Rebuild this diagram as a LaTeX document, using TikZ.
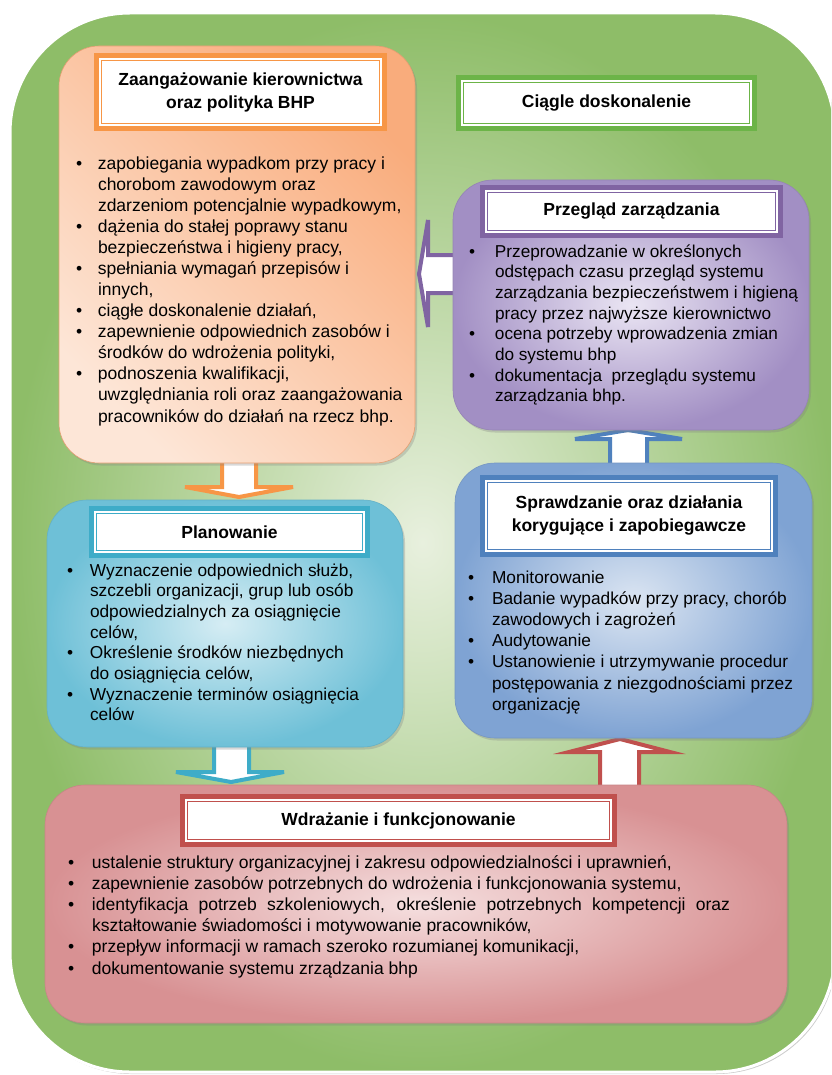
\documentclass[tikz,border=0pt]{standalone}
\usepackage{fontspec}
\setmainfont{Liberation Sans}
\usetikzlibrary{shadows}
\definecolor{grD}{RGB}{142,189,104}
\definecolor{grL}{RGB}{232,240,222}
\definecolor{grT}{RGB}{108,180,72}
\definecolor{orD}{RGB}{249,172,124}
\definecolor{orL}{RGB}{253,230,215}
\definecolor{orT}{RGB}{247,150,70}
\definecolor{puD}{RGB}{162,143,196}
\definecolor{puL}{RGB}{234,229,243}
\definecolor{puT}{RGB}{128,100,162}
\definecolor{cyD}{RGB}{110,192,215}
\definecolor{cyL}{RGB}{214,237,244}
\definecolor{cyT}{RGB}{62,172,200}
\definecolor{blD}{RGB}{127,163,211}
\definecolor{blL}{RGB}{219,229,242}
\definecolor{blT}{RGB}{79,129,189}
\definecolor{reD}{RGB}{216,145,147}
\definecolor{reL}{RGB}{245,223,223}
\definecolor{reT}{RGB}{192,80,77}
\newlength\bw
\newcommand\bi[1]{\makebox[\bw][l]{\textbullet}#1}
\newcommand\ci[1]{\hspace*{\bw}#1}
\begin{document}
\begin{tikzpicture}[x=1pt,y=-1pt,
  box/.style={rounded corners=40pt, outer sep=0pt, draw=#1D!92!black, line width=0.6pt,
    inner color=#1L, outer color=#1D,
    drop shadow={shadow xshift=2pt, shadow yshift=-2.5pt, opacity=0.3}},
  tbox/.style={draw=#1, line width=5pt, outer sep=0pt, fill=white, inner sep=2pt,
    align=center, font=\bfseries\fontsize{17.5}{23}\selectfont},
  inline/.style={draw=#1, line width=0.9pt},
  barrow/.style={draw=#1, line width=4pt, fill=white},
  btext/.style={anchor=base west, inner sep=0pt, outer sep=0pt}]
\useasboundingbox (0,0) rectangle (831,1075);
\clip (0,0) rectangle (831,1075);
% outer background
\node[rounded corners=120pt, outer sep=0pt, minimum width=825pt, minimum height=1059pt,
  inner color=grL, outer color=grD, draw=white, line width=3pt,
  drop shadow={shadow xshift=1.5pt, shadow yshift=-2pt, fill=black!40, opacity=0.5}]
  (outer) at (422.5,542.5) {};
% block arrows
\draw[barrow=orT] (222,455) -- (222,487) -- (185,487) -- (239,497) -- (293,487) -- (256,487) -- (256,455) -- cycle;
\draw[barrow=cyT] (214,740) -- (214,772) -- (176,772) -- (231,782) -- (284,772) -- (249,772) -- (249,740) -- cycle;
\draw[barrow=blT] (610,472) -- (610,439) -- (575,439) -- (628,430) -- (682,439) -- (647,439) -- (647,472) -- cycle;
\draw[barrow=reT] (600,795) -- (600,752) -- (569,752) -- (620,739) -- (670,752) -- (639,752) -- (639,795) -- cycle;
\draw[barrow=puT] (462,255) -- (428,255) -- (428,220) -- (419,274) -- (428,327) -- (428,293) -- (462,293) -- cycle;
% main boxes
\node[box=or, top color=orD, bottom color=orL, shading angle=-45, minimum width=356pt, minimum height=417pt] (zaang) at (237,254.5) {};
\node[box=pu, minimum width=356pt, minimum height=250pt] (przeg) at (631,305) {};
\node[box=cy, minimum width=356pt, minimum height=247pt] (plan) at (225,623.5) {};
\node[box=bl, minimum width=357pt, minimum height=275pt] (spraw) at (633.5,600.5) {};
\node[box=re, minimum width=742pt, minimum height=238pt] (wdraz) at (416,904) {};
% title boxes
\node[tbox=orT, minimum width=288pt, minimum height=73pt] (tz) at (240.5,92) {Zaangażowanie kierownictwa\\oraz polityka BHP};
\draw[inline=orT] ([shift={(5pt,-5pt)}]tz.north west) rectangle ([shift={(-5pt,5pt)}]tz.south east);
\node[tbox=grT, minimum width=296pt, minimum height=51pt] (tc) at (606.5,103) {Ciągle doskonalenie};
\draw[inline=grT] ([shift={(5pt,-5pt)}]tc.north west) rectangle ([shift={(-5pt,5pt)}]tc.south east);
\node[tbox=puT, minimum width=298pt, minimum height=48pt] (tp) at (631.5,211.5) {Przegląd zarządzania};
\draw[inline=puT] ([shift={(5pt,-5pt)}]tp.north west) rectangle ([shift={(-5pt,5pt)}]tp.south east);
\node[tbox=cyT, minimum width=276pt, minimum height=47pt] (tpl) at (229.5,532) {Planowanie};
\draw[inline=cyT] ([shift={(5pt,-5pt)}]tpl.north west) rectangle ([shift={(-5pt,5pt)}]tpl.south east);
\node[tbox=blT, minimum width=293pt, minimum height=77pt] (ts) at (629,516) {Sprawdzanie oraz działania\\korygujące i zapobiegawcze};
\draw[inline=blT] ([shift={(5pt,-5pt)}]ts.north west) rectangle ([shift={(-5pt,5pt)}]ts.south east);
\node[tbox=reT, minimum width=432pt, minimum height=48pt] (tw) at (398.5,820.5) {Wdrażanie i funkcjonowanie};
\draw[inline=reT] ([shift={(5pt,-5pt)}]tw.north west) rectangle ([shift={(-5pt,5pt)}]tw.south east);
% texts
\node[btext, font=\fontsize{17.5}{21}\selectfont] (xz) at (76,170) {\parbox[t]{345pt}{\setlength\bw{22pt}\raggedright
\bi{zapobiegania wypadkom przy pracy i}\\
\ci{chorobom zawodowym oraz}\\
\ci{zdarzeniom potencjalnie wypadkowym,}\\
\bi{dążenia do stałej poprawy stanu}\\
\ci{bezpieczeństwa i higieny pracy,}\\
\bi{spełniania wymagań przepisów i}\\
\ci{innych,}\\
\bi{ciągłe doskonalenie działań,}\\
\bi{zapewnienie odpowiednich zasobów i}\\
\ci{środków do wdrożenia polityki,}\\
\bi{podnoszenia kwalifikacji,}\\
\ci{uwzględniania roli oraz zaangażowania}\\
\ci{pracowników do działań na rzecz bhp.}}};
\node[btext, font=\fontsize{17.2}{20.7}\selectfont] (xp) at (469,257) {\parbox[t]{345pt}{\setlength\bw{26pt}\raggedright
\bi{Przeprowadzanie w określonych}\\
\ci{odstępach czasu przegląd systemu}\\
\ci{zarządzania bezpieczeństwem i higieną}\\
\ci{pracy przez najwyższe kierownictwo}\\
\bi{ocena potrzeby wprowadzenia zmian}\\
\ci{do systemu bhp}\\
\bi{dokumentacja\ \ przeglądu systemu}\\
\ci{zarządzania bhp.}}};
\node[btext, font=\fontsize{17.3}{20.7}\selectfont] (xpl) at (67,576) {\parbox[t]{345pt}{\setlength\bw{23pt}\raggedright
\bi{Wyznaczenie odpowiednich służb,}\\
\ci{szczebli organizacji, grup lub osób}\\
\ci{odpowiedzialnych za osiągnięcie}\\
\ci{celów,}\\
\bi{Określenie środków niezbędnych}\\
\ci{do osiągnięcia celów,}\\
\bi{Wyznaczenie terminów osiągnięcia}\\
\ci{celów}}};
\node[btext, font=\fontsize{17.3}{21.2}\selectfont] (xs) at (468,583) {\parbox[t]{345pt}{\setlength\bw{24pt}\raggedright
\bi{Monitorowanie}\\
\bi{Badanie wypadków przy pracy, chorób}\\
\ci{zawodowych i zagrożeń}\\
\bi{Audytowanie}\\
\bi{Ustanowienie i utrzymywanie procedur}\\
\ci{postępowania z niezgodnościami przez}\\
\ci{organizację}}};
\node[btext, font=\fontsize{17.5}{21.2}\selectfont] (xw) at (68,868) {\parbox[t]{700pt}{\setlength\bw{24pt}\raggedright
\bi{ustalenie struktury organizacyjnej i zakresu odpowiedzialności i uprawnień,}\\
\bi{zapewnienie zasobów potrzebnych do wdrożenia i funkcjonowania systemu,}\\
\bi{\makebox[638pt][s]{identyfikacja potrzeb szkoleniowych, określenie potrzebnych kompetencji oraz}}\\
\ci{kształtowanie świadomości i motywowanie pracowników,}\\
\bi{przepływ informacji w ramach szeroko rozumianej komunikacji,}\\
\bi{dokumentowanie systemu zrządzania bhp}}};
\end{tikzpicture}
\end{document}
